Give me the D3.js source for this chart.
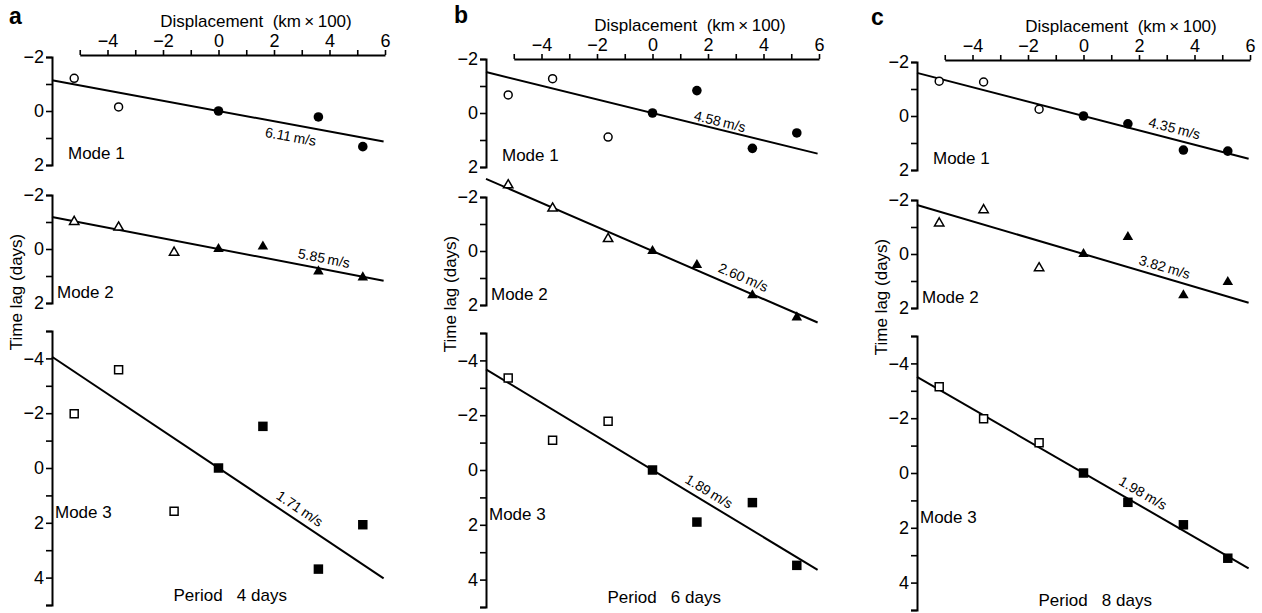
<!DOCTYPE html>
<html>
<head>
<meta charset="utf-8">
<script src="https://cdn.jsdelivr.net/npm/d3@7"></script>
<style>
body { margin: 0; background: white; }
text { font-family: "Liberation Sans", Arial, Helvetica, sans-serif; }
</style>
</head>
<body>
<div id="container"></div>
<script>
// station displacement (km x 100)
let stations = [-5.2, -3.6, -1.6, 0, 1.6, 3.6, 5.2];
let panels = ['a', 'b', 'c'];
let periods = [4, 6, 8];
let modes = ['Mode 1', 'Mode 2', 'Mode 3'];

// time lag (days) at each station, one row per panel (a, b, c)
let mode1Lags = [
    [-1.21, -0.15, null, 0, null, 0.22, 1.32],
    [-0.67, -1.27, 0.89, 0, -0.83, 1.31, 0.74],
    [-1.29, -1.26, -0.25, 0, 0.29, 1.26, 1.30]
];
let mode2Lags = [
    [-1.01, -0.80, 0.13, 0, -0.09, 0.83, 1.05],
    [-2.44, -1.58, -0.45, 0, 0.52, 1.64, 2.46],
    [-1.14, -1.63, 0.52, 0, -0.63, 1.53, 1.04]
];
let mode3Lags = [
    [-1.98, -3.59, 1.58, 0, -1.52, 3.69, 2.07],
    [-3.36, -1.09, -1.78, 0, 1.90, 1.19, 3.48],
    [-3.15, -1.98, -1.10, 0, 1.07, 1.89, 3.11]
];

// phase speed of the fitted line (m/s), per panel
let mode1Speeds = [6.11, 4.58, 4.35];
let mode2Speeds = [5.85, 2.60, 3.82];
let mode3Speeds = [1.71, 1.89, 1.98];

// ticks
let xTicks = [-5, -4, -3, -2, -1, 0, 1, 2, 3, 4, 5, 6];
let smallTicks = [-2, -1, 0, 1, 2];
let bigTicks = [-5, -4, -3, -2, -1, 0, 1, 2, 3, 4, 5];

// ---- layout ----
let axisX = [52, 486, 917];
let panelDy = [0, 2, 5];
let topAxisY = [55, 59, 60];
let letterX = [9, 454, 871];
let letterY = [24, 23, 25];
let modeDomain = [[-2, 2], [-2, 2], [-5, 5]];
let modeRange = [[57, 165], [195, 303], [331, 605]];
let modeLabelDx = [16, 5, 3];
let modeLabelAt = [1.78, 1.81, 1.82];
// where the speed label sits on each line [panel][mode]: x in data units, offset px
let speedLabelX = [[2.68, 3.73, 2.7], [2.36, 3.1, 1.83], [3.18, 2.82, 1.92]];
let speedLabelOff = [[17, -6, -6.5], [-3, -7, -6], [-6, -5.5, -7.5]];

let modeLags = [mode1Lags, mode2Lags, mode3Lags];
let modeSpeeds = [mode1Speeds, mode2Speeds, mode3Speeds];
let modeTicks = [smallTicks, smallTicks, bigTicks];
let modeShapes = [d3.symbolCircle, d3.symbolTriangle, d3.symbolSquare];
let openSize = [50, 38, 64];
let fillSize = [72, 48, 90];

let viz = d3.select('#container')
    .append('svg')
    .attr('width', 1262)
    .attr('height', 613)
    ;

function fmtEven(d) {
    if (d % 2 === 0) {
        return d3.format('')(d);
    }
    return '';
}

function styleAxis(sel) {
    sel.attr('font-size', 18)
        .attr('font-family', '"Liberation Sans", Arial, Helvetica, sans-serif');
    sel.select('.domain').attr('stroke-width', 2);
    sel.selectAll('.tick line').attr('stroke-width', 1.6);
    sel.selectAll('.tick text').attr('fill', 'black');
}

panels.forEach(function (letter, p) {
    let dy = panelDy[p];
    let x0 = axisX[p];
    let x = d3.scaleLinear().domain([-6, 6]).range([x0, x0 + 333]);
    let g = viz.append('g');

    g.append('text')
        .attr('x', letterX[p])
        .attr('y', letterY[p])
        .attr('font-size', 23)
        .attr('font-weight', 'bold')
        .text(letter);

    // top displacement axis
    let xTop = d3.scaleLinear().domain([-5, 6]).range([x(-5), x(6)]);
    g.append('g')
        .attr('transform', 'translate(0,' + topAxisY[p] + ')')
        .call(d3.axisTop(xTop).tickValues(xTicks).tickFormat(fmtEven)
            .tickSize(5).tickSizeOuter(0).tickPadding(3))
        .call(styleAxis);

    g.append('text')
        .attr('x', x(1.35))
        .attr('y', topAxisY[p] - 28)
        .attr('text-anchor', 'middle')
        .attr('font-size', 17)
        .attr('xml:space', 'preserve')
        .style('white-space', 'pre')
        .text('Displacement  (km\u2009\u00d7\u2009100)');

    g.append('text')
        .attr('transform', 'translate(' + (x0 - 30) + ',' + (292 + dy) + ') rotate(-90)')
        .attr('text-anchor', 'middle')
        .attr('font-size', 17)
        .text('Time lag (days)');

    modes.forEach(function (name, m) {
        let y = d3.scaleLinear().domain(modeDomain[m])
            .range([modeRange[m][0] + dy, modeRange[m][1] + dy]);

        g.append('g')
            .attr('transform', 'translate(' + x0 + ',0)')
            .call(d3.axisLeft(y).tickValues(modeTicks[m]).tickFormat(fmtEven)
                .tickSize(6).tickSizeOuter(6).tickPadding(2))
            .call(styleAxis);

        g.append('text')
            .attr('x', x0 + modeLabelDx[m])
            .attr('y', y(modeLabelAt[m]))
            .attr('font-size', 17)
            .text(name);

        // fitted line: lag (days) per 100 km for this phase speed
        let k = 1e5 / (modeSpeeds[m][p] * 86400);
        g.append('line')
            .attr('x1', x(-6)).attr('y1', y(-6 * k))
            .attr('x2', x(5.95)).attr('y2', y(5.95 * k))
            .attr('stroke', 'black')
            .attr('stroke-width', 2);

        let angle = Math.atan2(y(k) - y(0), x(1) - x(0)) * 180 / Math.PI;
        let lx = speedLabelX[p][m];
        g.append('text')
            .attr('transform', 'translate(' + x(lx) + ',' + y(lx * k) + ') rotate(' + angle + ')')
            .attr('y', speedLabelOff[p][m])
            .attr('text-anchor', 'middle')
            .attr('font-size', 14)
            .text(modeSpeeds[m][p].toFixed(2) + '\u2009m/s');

        let pts = stations.map(function (s, i) {
            return { s: s, lag: modeLags[m][p][i] };
        }).filter(function (d) { return d.lag !== null; });

        g.selectAll(null).data(pts).enter()
            .append('path')
            .attr('transform', function (d) { return 'translate(' + x(d.s) + ',' + y(d.lag) + ')'; })
            .attr('d', function (d) {
                return d3.symbol().type(modeShapes[m]).size(d.s < 0 ? openSize[m] : fillSize[m])();
            })
            .attr('fill', function (d) { return d.s < 0 ? 'white' : 'black'; })
            .attr('stroke', 'black')
            .attr('stroke-width', function (d) { return d.s < 0 ? 1.5 : 0; });

        if (m === 2) {
            g.append('text')
                .attr('x', x(0) - 45)
                .attr('y', y(4.86))
                .attr('font-size', 17)
                .attr('xml:space', 'preserve')
                .style('white-space', 'pre')
                .text('Period   ' + periods[p] + ' days');
        }
    });
});
</script>
</body>
</html>
